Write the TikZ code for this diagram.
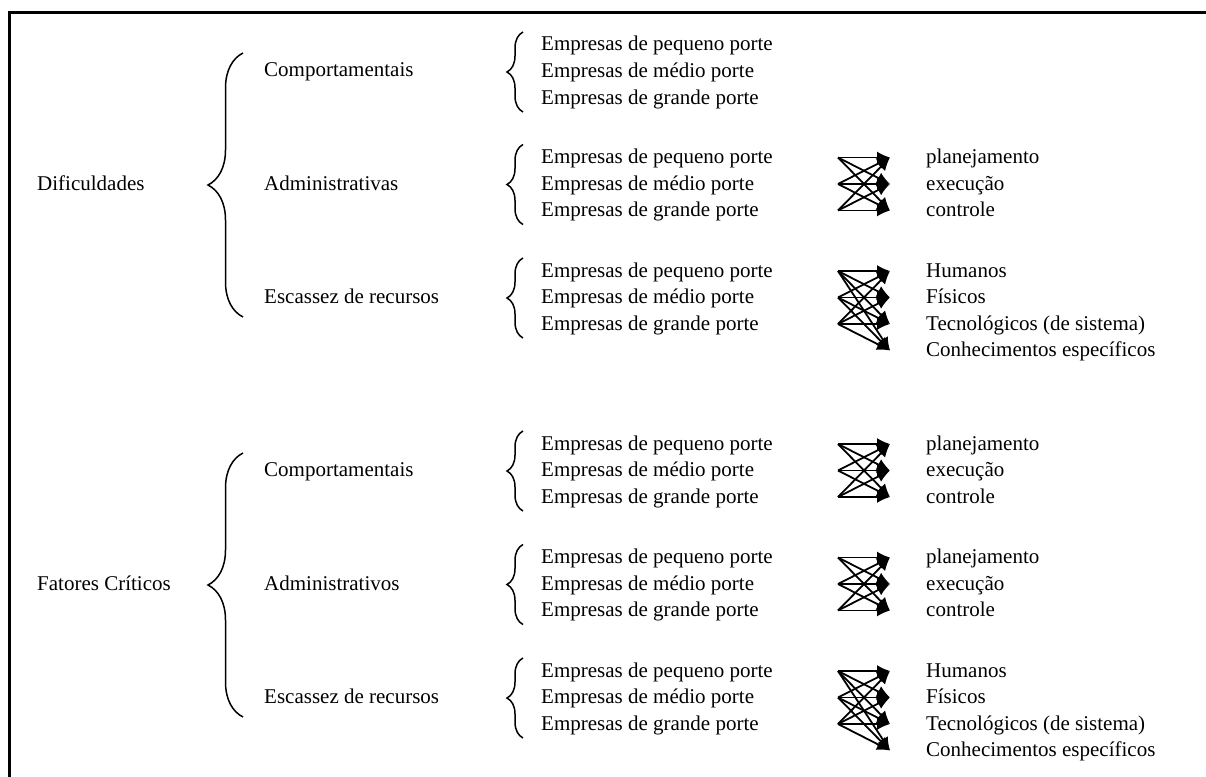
\documentclass[tikz,border=0pt]{standalone}
\usepackage{fontspec}
\setmainfont{Liberation Serif}
\usetikzlibrary{arrows.meta,decorations.pathreplacing}

\tikzset{
	txt/.style={anchor=base west,inner sep=0pt,font=\fontsize{21}{26}\selectfont},
	bigbrace/.style={decorate,decoration={brace,amplitude=35pt},line width=1.5pt},
	smallbrace/.style={decorate,decoration={brace,amplitude=16pt},line width=1.5pt},
	fan/.style={line width=1.8pt,-{Latex[length=13pt,width=12pt]}},
}

\begin{document}
\begin{tikzpicture}[x=1pt,y=-1pt]
	\useasboundingbox (0,0) rectangle (1206,776);
	\clip (0,0) rectangle (1206,776);
	\draw [line width=3pt] (9,13) rectangle (1230,800);

	% first level
	\node [txt] (DIF) at (37,190) {Dificuldades};
	\node [txt] (FAT) at (37,590) {Fatores Críticos};
	\draw [bigbrace] (243,317) -- (243,53);
	\draw [bigbrace] (243,717) -- (243,453);

	% second level
	\node [txt] (COMP_A) at (264,77) {Comportamentais};
	\node [txt] (ADM_A) at (264,190) {Administrativas};
	\node [txt] (ESC_A) at (264,303) {Escassez de recursos};
	\node [txt] (COMP_B) at (264,476) {Comportamentais};
	\node [txt] (ADM_B) at (264,590) {Administrativos};
	\node [txt] (ESC_B) at (264,703) {Escassez de recursos};

	% company sizes
	\foreach \n/\y in {1/45,2/157.5,3/271,4/444,5/557.5,6/671}{
		\draw [smallbrace] (523,\y+67) -- (523,\y-13);
		\node [txt] (PEQ\n) at (541,\y+6) {Empresas de pequeno porte};
		\node [txt] (MED\n) at (541,\y+32.5) {Empresas de médio porte};
		\node [txt] (GRA\n) at (541,\y+59) {Empresas de grande porte};
		\foreach \i in {0,1,2}
			\coordinate (S\n\i) at (838,\y+26.5*\i);
	}

	% right column
	\foreach \n/\y in {2/157.5,4/444,5/557.5}{
		\node [txt] (PLA\n) at (926,\y+6) {planejamento};
		\node [txt] (EXE\n) at (926,\y+32.5) {execução};
		\node [txt] (CON\n) at (926,\y+59) {controle};
		\foreach \j in {0,1,2}
			\coordinate (T\n\j) at (890,\y+26.5*\j);
		\foreach \i in {0,1,2}
			\foreach \j in {0,1,2}
				\draw [fan] (S\n\i) -- (T\n\j);
	}
	\foreach \n/\y in {3/271,6/671}{
		\node [txt] (HUM\n) at (926,\y+6) {Humanos};
		\node [txt] (FIS\n) at (926,\y+32.5) {Físicos};
		\node [txt] (TEC\n) at (926,\y+59) {Tecnológicos (de sistema)};
		\node [txt] (CNH\n) at (926,\y+85.5) {Conhecimentos específicos};
		\foreach \j in {0,1,2,3}
			\coordinate (T\n\j) at (890,\y+26.5*\j);
		\foreach \i in {0,1,2}
			\foreach \j in {0,1,2,3}
				\draw [fan] (S\n\i) -- (T\n\j);
	}
\end{tikzpicture}
\end{document}
